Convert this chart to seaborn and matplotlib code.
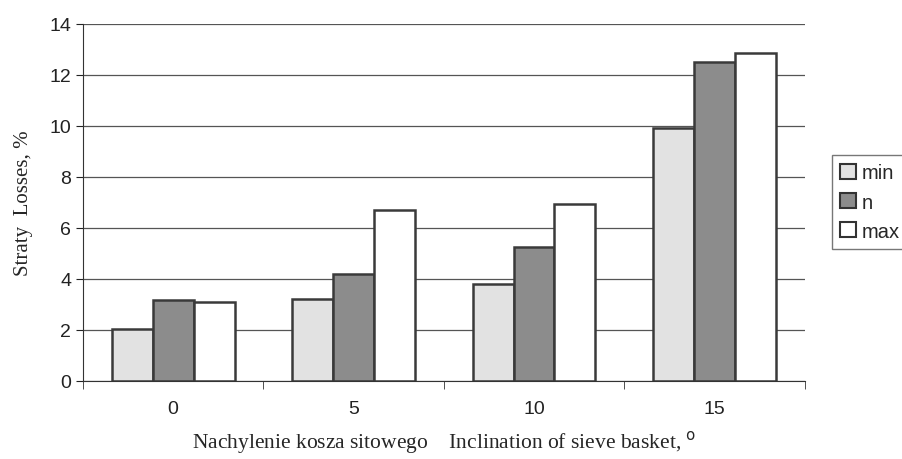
import pandas as pd
import seaborn as sns
import matplotlib.pyplot as plt
from matplotlib.patches import Patch

# Data
angles = ['0', '5', '10', '15']
series = ['min', 'n', 'max']
min_vals = [2.05, 3.2, 3.8, 9.9]
n_vals = [3.15, 4.2, 5.25, 12.5]
max_vals = [3.1, 6.7, 6.95, 12.85]

df = pd.DataFrame({
    'Angle': angles * 3,
    'Series': ['min'] * 4 + ['n'] * 4 + ['max'] * 4,
    'Value': min_vals + n_vals + max_vals,
})

sns.set_style("white")
plt.rcParams['font.family'] = ['Liberation Sans', 'DejaVu Sans']

palette = {'min': '#e2e2e2', 'n': '#8c8c8c', 'max': '#ffffff'}

fig = plt.figure(figsize=(9.02, 4.6), dpi=100)
ax = fig.add_axes([0.092, 0.17, 0.8, 0.776])

sns.barplot(data=df, x='Angle', y='Value', hue='Series', order=angles,
            hue_order=series, palette=palette, width=0.68, gap=0,
            edgecolor='#3a3a3a', linewidth=1.8, saturation=1, ax=ax, legend=False)

ax.set_ylim(0, 14)
ax.set_yticks(range(0, 15, 2))
ax.set_xlim(-0.5, 3.5)
ax.yaxis.grid(True, color='#555555', linewidth=0.9)
ax.set_axisbelow(True)

for side in ['top', 'right']:
    ax.spines[side].set_visible(False)
ax.spines['left'].set_color('#333333')
ax.spines['bottom'].set_color('#333333')

ax.tick_params(axis='y', which='major', left=True, length=5, labelsize=14, colors='#222222')
ax.tick_params(axis='x', which='major', length=0, labelsize=14, pad=14, colors='#222222')
ax.set_xticks([-0.5, 0.5, 1.5, 2.5, 3.5], minor=True)
ax.tick_params(axis='x', which='minor', bottom=True, length=6, color='#333333')

ax.set_ylabel('Straty  Losses, %', family=['Liberation Serif'], fontsize=15, labelpad=12)
ax.set_xlabel('Nachylenie kosza sitowego    Inclination of sieve basket, $^{\\mathrm{o}}$',
              family=['Liberation Serif'], fontsize=15.5, labelpad=8)

handles = [Patch(facecolor=palette[s], edgecolor='#333333', linewidth=1.5) for s in series]
fig.legend(handles, series, loc='upper left', bbox_to_anchor=(0.922, 0.66),
           frameon=True, fancybox=False, edgecolor='#555555', fontsize=14.5,
           handlelength=0.8, handleheight=0.8, handletextpad=0.3,
           borderpad=0.4, labelspacing=0.5, borderaxespad=0)

fig.savefig('out.png', dpi=100)
